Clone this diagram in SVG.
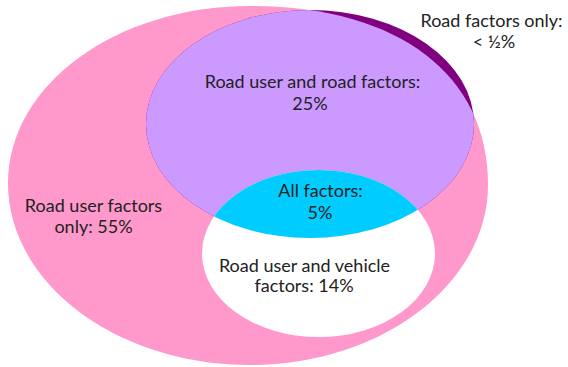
<svg xmlns="http://www.w3.org/2000/svg" width="568" height="367" viewBox="0 0 568 367">
<style>
  .lbl { font-family: Lato, "Open Sans", "Liberation Sans", sans-serif; font-size: 18px; fill: #222222; text-anchor: middle; }
</style>
<defs>
  <path id="pinkShape" d="M250,6 C398,6 488,74 488,185 C488,284 381,365 250,365 C116,365 8,283 8,183 C8,85 116,6 250,6 Z"/>
  <clipPath id="clipPink"><use href="#pinkShape"/></clipPath>
  <clipPath id="clipRoad"><ellipse cx="310" cy="124" rx="164" ry="114"/></clipPath>
</defs>
<rect width="568" height="367" fill="#ffffff"/>
<g id="road-user">
  <use href="#pinkShape" fill="#FF99CC"/>
</g>
<g id="road">
  <ellipse cx="310" cy="124" rx="164" ry="114" fill="#800080"/>
  <ellipse cx="310" cy="124" rx="164" ry="114" fill="#CC99FF" clip-path="url(#clipPink)"/>
</g>
<g id="vehicle">
  <ellipse cx="318.5" cy="253.5" rx="116.5" ry="83.5" fill="#FFFFFF"/>
  <ellipse cx="318.5" cy="253.5" rx="116.5" ry="83.5" fill="#00CCFF" clip-path="url(#clipRoad)"/>
</g>
<g id="connectors"></g>
<g id="labels">
  <text class="lbl" x="491.5" y="27">Road factors only:</text>
  <text class="lbl" x="494" y="48">&lt; ½%</text>
  <text class="lbl" x="312.5" y="88">Road user and road factors:</text>
  <text class="lbl" x="310" y="110">25%</text>
  <text class="lbl" x="320.5" y="197">All factors:</text>
  <text class="lbl" x="320" y="219">5%</text>
  <text class="lbl" x="93.5" y="212">Road user factors</text>
  <text class="lbl" x="93.5" y="233">only: 55%</text>
  <text class="lbl" x="304.5" y="272">Road user and vehicle</text>
  <text class="lbl" x="304" y="292">factors: 14%</text>
</g>
</svg>
